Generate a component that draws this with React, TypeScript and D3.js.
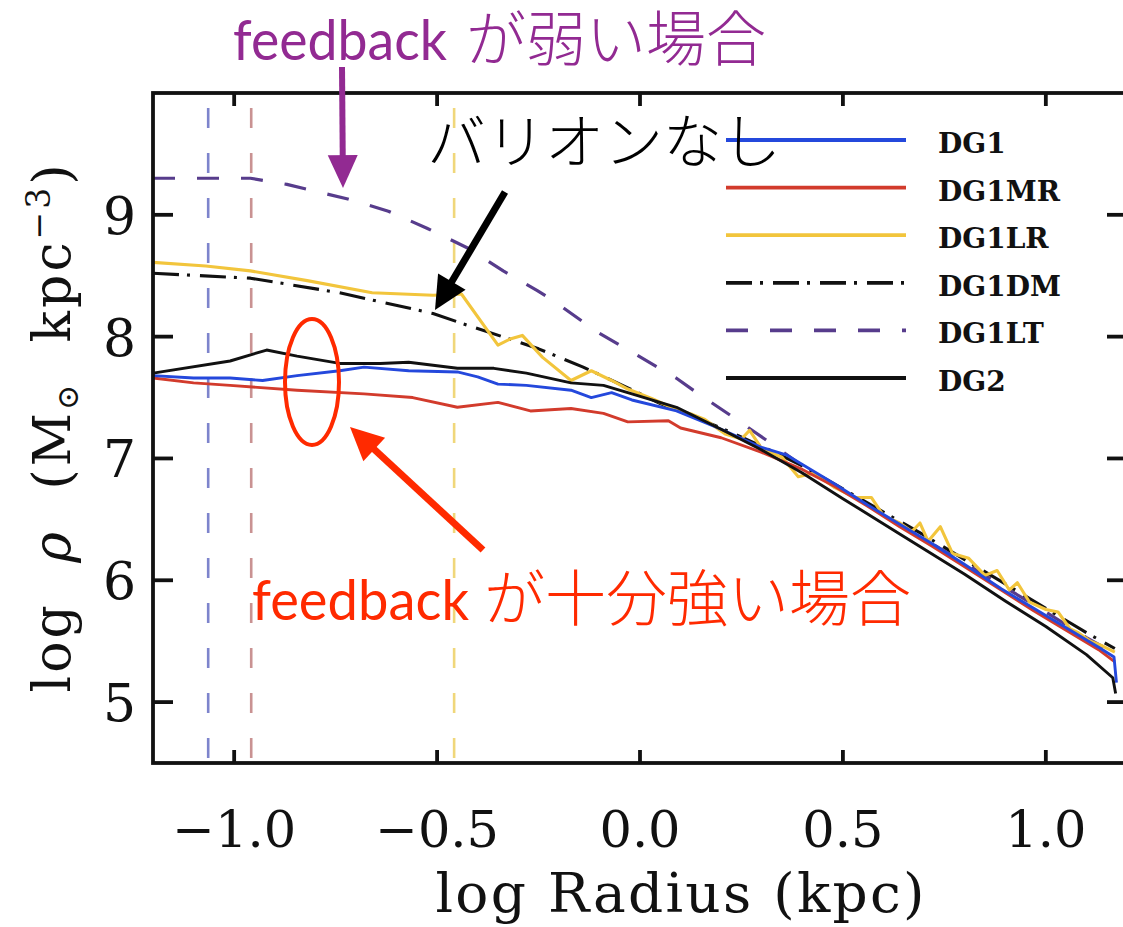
import React from "react";
import * as d3 from "d3";

const W = 1123;
const H = 927;

// ---- data ----
const xTicks = [-1, -0.5, 0, 0.5, 1];
const xTickLabels = ["\u22121.0", "\u22120.5", "0.0", "0.5", "1.0"];
const yTicks = [5, 6, 7, 8, 9];
const yTickLabels = ["5", "6", "7", "8", "9"];

const resLimitX = [-1.064, -0.958, -0.458];
const resLimitColor = ["#7d84cc", "#c99292", "#f0d77a"];

const dg1X = [-1.2, -1.1, -1.01, -0.93, -0.845, -0.74, -0.68, -0.57, -0.45, -0.4, -0.35, -0.28, -0.17, -0.12, -0.07, -0.02, 0.09, 0.2, 0.3, 0.36, 0.4, 0.48, 0.56, 0.64, 0.72, 0.8, 0.89, 0.97, 1.05, 1.13, 1.168, 1.174];
const dg1Y = [7.68, 7.66, 7.66, 7.64, 7.68, 7.72, 7.75, 7.72, 7.71, 7.67, 7.61, 7.6, 7.56, 7.5, 7.54, 7.48, 7.39, 7.24, 7.09, 7.03, 6.95, 6.79, 6.62, 6.46, 6.3, 6.13, 5.93, 5.77, 5.61, 5.45, 5.37, 5.16];

const dg1mrX = [-1.2, -1.1, -1.01, -0.845, -0.68, -0.56, -0.45, -0.35, -0.27, -0.17, -0.09, -0.03, 0.07, 0.1, 0.2, 0.3, 0.4, 0.48, 0.56, 0.64, 0.72, 0.8, 0.89, 0.97, 1.05, 1.13, 1.17];
const dg1mrY = [7.66, 7.62, 7.6, 7.56, 7.53, 7.5, 7.42, 7.46, 7.39, 7.41, 7.37, 7.3, 7.31, 7.25, 7.17, 7.05, 6.91, 6.77, 6.61, 6.44, 6.28, 6.11, 5.92, 5.75, 5.59, 5.43, 5.33];

const dg1lrX = [-1.2, -1.07, -0.96, -0.82, -0.66, -0.51, -0.44, -0.35, -0.32, -0.29, -0.24, -0.17, -0.12, -0.07, -0.03, 0.03, 0.09, 0.13, 0.16, 0.21, 0.25, 0.27, 0.3, 0.35, 0.39, 0.43, 0.48, 0.53, 0.57, 0.6, 0.64, 0.67, 0.69, 0.71, 0.74, 0.77, 0.81, 0.85, 0.88, 0.91, 0.93, 0.96, 1.0, 1.03, 1.06, 1.08, 1.11, 1.14, 1.17];
const dg1lrY = [8.61, 8.58, 8.54, 8.46, 8.36, 8.34, 8.35, 7.93, 7.98, 8.01, 7.83, 7.64, 7.72, 7.64, 7.57, 7.49, 7.4, 7.36, 7.32, 7.2, 7.16, 7.23, 7.08, 7.01, 6.85, 6.88, 6.76, 6.68, 6.68, 6.53, 6.47, 6.4, 6.47, 6.32, 6.44, 6.22, 6.18, 6.04, 6.08, 5.92, 5.98, 5.82, 5.76, 5.74, 5.6, 5.57, 5.5, 5.46, 5.41];

const dg1dmX = [-1.2, -0.96, -0.74, -0.51, -0.44, -0.33, -0.25, -0.14, -0.03, 0.05, 0.2, 0.3, 0.4, 0.5, 0.6, 0.7, 0.8, 0.9, 1.0, 1.1, 1.17];
const dg1dmY = [8.52, 8.48, 8.36, 8.19, 8.11, 7.99, 7.9, 7.75, 7.58, 7.45, 7.25, 7.1, 6.94, 6.75, 6.56, 6.37, 6.17, 5.97, 5.77, 5.57, 5.44];

const dg1ltX = [-1.2, -0.96, -0.87, -0.72, -0.62, -0.525, -0.426, -0.337, -0.254, -0.22, -0.106, 0.089, 0.14, 0.229, 0.32, 0.4, 0.5, 0.6, 0.7, 0.8, 0.9, 1.0, 1.1, 1.17];
const dg1ltY = [9.3, 9.3, 9.25, 9.13, 9.03, 8.89, 8.73, 8.54, 8.38, 8.31, 8.04, 7.66, 7.54, 7.34, 7.13, 6.94, 6.74, 6.54, 6.34, 6.14, 5.94, 5.74, 5.53, 5.4];

const dg2X = [-1.2, -1.01, -0.92, -0.845, -0.74, -0.64, -0.57, -0.45, -0.36, -0.28, -0.17, -0.09, -0.02, 0.09, 0.2, 0.3, 0.4, 0.5, 0.64, 0.8, 0.9, 1.0, 1.1, 1.165, 1.172];
const dg2Y = [7.7, 7.8, 7.89, 7.84, 7.78, 7.78, 7.79, 7.74, 7.74, 7.7, 7.62, 7.6, 7.53, 7.42, 7.24, 7.07, 6.88, 6.67, 6.38, 6.05, 5.83, 5.62, 5.39, 5.2, 5.07];

const seriesNames = ["DG1", "DG1MR", "DG1LR", "DG1DM", "DG1LT", "DG2"];
const seriesX = [dg1X, dg1mrX, dg1lrX, dg1dmX, dg1ltX, dg2X];
const seriesY = [dg1Y, dg1mrY, dg1lrY, dg1dmY, dg1ltY, dg2Y];
const seriesColor = ["#2448dc", "#d23b2c", "#f2c53c", "#111111", "#573c8c", "#111111"];
const seriesDash = ["", "", "", "26,8,3,10", "22,22", ""];
const seriesWidth = [2.9, 2.9, 3.1, 3.1, 3.2, 2.9];
// drawing order (back to front)
const drawOrder = [4, 3, 2, 1, 0, 5];

// ---- layout ----
const L = 153, R = 1127, T = 93, B = 763;

export default function App() {
  const x = d3.scaleLinear().domain([-1.2, 1.2]).range([L, R]);
  const y = d3.scaleLinear().domain([4.5, 10]).range([B, T]);
  const line = d3.line<[number, number]>().x((d) => x(d[0])).y((d) => y(d[1]));

  const serif = "'DejaVu Serif', serif";
  const jp = "'Noto Sans CJK JP', sans-serif";

  const arrow = (x1: number, y1: number, x2: number, y2: number, color: string, sw: number, hl: number, hw: number) => {
    const dx = x2 - x1, dy = y2 - y1;
    const len = Math.hypot(dx, dy);
    const ux = dx / len, uy = dy / len;
    const bx = x2 - ux * hl, by = y2 - uy * hl;
    const px = -uy, py = ux;
    const pts = [
      [x2, y2],
      [bx + px * hw, by + py * hw],
      [bx - px * hw, by - py * hw],
    ].map((p) => p.join(",")).join(" ");
    return (
      <g>
        <line x1={x1} y1={y1} x2={bx + ux * 2} y2={by + uy * 2} stroke={color} strokeWidth={sw} />
        <polygon points={pts} fill={color} />
      </g>
    );
  };

  const legendY0 = 140, legendStep = 47.6;

  return (
    <svg width={W} height={H} style={{ position: "absolute", left: 0, top: 0, background: "#fff" }}>
      <defs>
        <clipPath id="plotClip">
          <rect x={L} y={T} width={R - L} height={B - T} />
        </clipPath>
      </defs>
      <rect x={0} y={0} width={W} height={H} fill="#fff" />

      {/* resolution limits */}
      <g clipPath="url(#plotClip)">
        {resLimitX.map((v, i) => (
          <line key={"v" + i} x1={x(v)} x2={x(v)} y1={T} y2={B} stroke={resLimitColor[i]} strokeWidth={2.6} strokeDasharray="20,25" strokeDashoffset={30} />
        ))}
        {drawOrder.map((si) => {
          const pts = seriesX[si].map((v, j) => [v, seriesY[si][j]] as [number, number]);
          return (
            <path key={"s" + si} d={line(pts) || ""} fill="none" stroke={seriesColor[si]} strokeWidth={seriesWidth[si]} strokeDasharray={seriesDash[si] || undefined} strokeLinejoin="round" />
          );
        })}
      </g>

      {/* frame */}
      <rect x={L} y={T} width={R - L} height={B - T} fill="none" stroke="#111" strokeWidth={3.8} />
      {xTicks.map((v, i) => (
        <g key={"xt" + i}>
          <line x1={x(v)} x2={x(v)} y1={B} y2={B - 13} stroke="#111" strokeWidth={3.8} />
          <line x1={x(v)} x2={x(v)} y1={T} y2={T + 13} stroke="#111" strokeWidth={3.8} />
          <text x={x(v)} y={847} textAnchor="middle" fontFamily={serif} fontSize={51} fill="#111">{xTickLabels[i]}</text>
        </g>
      ))}
      {yTicks.map((v, i) => (
        <g key={"yt" + i}>
          <line x1={L} x2={L + 20} y1={y(v)} y2={y(v)} stroke="#111" strokeWidth={3.8} />
          <line x1={R} x2={R - 20} y1={y(v)} y2={y(v)} stroke="#111" strokeWidth={3.8} />
          <text x={136} y={y(v) + 19} textAnchor="end" fontFamily={serif} fontSize={52} fill="#111">{yTickLabels[i]}</text>
        </g>
      ))}

      {/* axis titles */}
      <text x={680} y={912} textAnchor="middle" fontFamily={serif} fontSize={55} fill="#111" textLength={489} lengthAdjust="spacing">log Radius (kpc)</text>
      <text transform="translate(70,427) rotate(-90)" textAnchor="middle" fontFamily={serif} fontSize={52} fill="#111" letterSpacing={3} wordSpacing={20}>
        log <tspan fontStyle="italic">ρ</tspan> (M<tspan fontSize={30} dy={8}>⊙</tspan><tspan dy={-8}> kpc</tspan><tspan fontSize={33} dy={-20}>−3</tspan><tspan dy={20}>)</tspan>
      </text>

      {/* legend */}
      {seriesNames.map((n, i) => {
        const ly = legendY0 + i * legendStep;
        return (
          <g key={"lg" + i}>
            <line x1={726} x2={906} y1={ly} y2={ly} stroke={seriesColor[i]} strokeWidth={3.8} strokeDasharray={seriesDash[i] || undefined} />
            <text x={938} y={ly + 13} fontFamily={serif} fontWeight="bold" fontSize={28} fill="#111">{n}</text>
          </g>
        );
      })}

      {/* annotations */}
      <text x={233} y={60} fontFamily="Lato, sans-serif" fontSize={56} fill="#922a92" textLength={214} lengthAdjust="spacingAndGlyphs">feedback</text>
      <text x={466} y={61} fontFamily={jp} fontWeight={300} fontSize={60} fill="#922a92">が弱い場合</text>
      {arrow(342, 67, 343, 188, "#922a92", 6, 33, 15)}

      <text x={427} y={163} fontFamily={jp} fontWeight={300} fontSize={59} fill="#000">バリオンなし</text>
      {arrow(505, 192, 435, 310, "#000", 7, 33, 16)}

      <ellipse cx={312} cy={382} rx={27} ry={63} fill="none" stroke="#ff2a00" strokeWidth={4} />
      {arrow(483, 550, 350, 427, "#ff2a00", 7, 33, 16)}
      <text x={252} y={620} fontFamily="Lato, sans-serif" fontSize={57} fill="#ff2a00" textLength={217} lengthAdjust="spacingAndGlyphs">feedback</text>
      <text x={484} y={621} fontFamily={jp} fontWeight={300} fontSize={61} fill="#ff2a00">が十分強い場合</text>
    </svg>
  );
}
